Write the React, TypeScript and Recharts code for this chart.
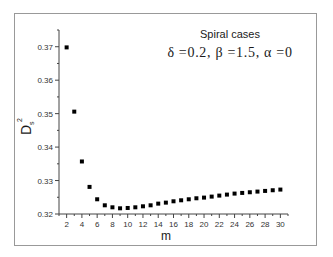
import { ScatterChart, Scatter, XAxis, YAxis, Customized } from "recharts";

const M_VALUES = [2, 3, 4, 5, 6, 7, 8, 9, 10, 11, 12, 13, 14, 15, 16, 17, 18, 19, 20, 21, 22, 23, 24, 25, 26, 27, 28, 29, 30];
const DS2_VALUES = [
  0.3698, 0.3506, 0.3357, 0.3281, 0.3244, 0.3226, 0.322, 0.3217, 0.3218, 0.322,
  0.3223, 0.3226, 0.3231, 0.3234, 0.3238, 0.3241, 0.3244, 0.3247, 0.3249, 0.3252,
  0.3255, 0.3258, 0.3261, 0.3263, 0.3265, 0.3267, 0.3269, 0.3271, 0.3273,
];
const X_TICKS = [1, 2, 3, 4, 5, 6, 7, 8, 9, 10, 11, 12, 13, 14, 15, 16, 17, 18, 19, 20, 21, 22, 23, 24, 25, 26, 27, 28, 29, 30, 31];
const X_LABELS = [2, 4, 6, 8, 10, 12, 14, 16, 18, 20, 22, 24, 26, 28, 30];
const Y_TICKS = [0.32, 0.325, 0.33, 0.335, 0.34, 0.345, 0.35, 0.355, 0.36, 0.365, 0.37, 0.375];
const Y_LABELS = [0.32, 0.33, 0.34, 0.35, 0.36, 0.37];

const data = M_VALUES.map((m, i) => ({ m, ds2: DS2_VALUES[i] }));

const AXIS = "#444";
const TEXT = "#1a1a1a";
const TICK_FONT = { fontFamily: "'Liberation Sans', Arial, sans-serif", fontSize: 8, fill: "#333" };

function XTick({ x, y, payload }: any) {
  const major = X_LABELS.includes(payload.value);
  return (
    <g>
      <line x1={x} x2={x} y1={y} y2={y + (major ? 4 : 2)} stroke={AXIS} />
      {major && (
        <text x={x} y={y + 13} textAnchor="middle" {...TICK_FONT}>
          {payload.value}
        </text>
      )}
    </g>
  );
}

function YTick({ x, y, payload }: any) {
  const major = Y_LABELS.some((v) => Math.abs(v - payload.value) < 1e-6);
  return (
    <g>
      <line x1={x - (major ? 4 : 2)} x2={x} y1={y} y2={y} stroke={AXIS} />
      {major && (
        <text x={x - 6} y={y + 3} textAnchor="end" {...TICK_FONT}>
          {payload.value.toFixed(2)}
        </text>
      )}
    </g>
  );
}

function SquareDot({ cx, cy }: any) {
  return <rect x={cx - 2} y={cy - 2} width={4} height={4} fill="#000" />;
}

// text blocks: legend note, axis titles
function Annotations() {
  return (
    <g>
      <text x={230} y={38} textAnchor="middle" fontFamily="'Liberation Sans', Arial, sans-serif" fontSize={11} fill={TEXT}>
        Spiral cases
      </text>
      <text x={230} y={57} textAnchor="middle" fontFamily="'Liberation Serif', 'Times New Roman', serif" fontSize={14} letterSpacing={0.7} fill={TEXT}>
        δ =0.2, β =1.5, α =0
      </text>
      <text x={166} y={240} textAnchor="middle" fontFamily="'Liberation Sans', Arial, sans-serif" fontSize={12} fill={TEXT}>
        m
      </text>
      <g transform="translate(31,135) rotate(-90)" fontFamily="'Liberation Sans', Arial, sans-serif" fill={TEXT}>
        <text x={0} y={0} fontSize={14}>D</text>
        <text x={10} y={3} fontSize={7}>s</text>
        <text x={13} y={-9} fontSize={7}>2</text>
      </g>
    </g>
  );
}

export default function App() {
  return (
    <div style={{ position: "absolute", left: 0, top: 0, width: 333, height: 257, background: "#fff" }}>
      <div
        style={{
          position: "absolute",
          left: 14,
          top: 13,
          width: 301,
          height: 231,
          border: "1px solid #999",
        }}
      />
      <div style={{ position: "absolute", left: 0, top: 0 }}>
        <ScatterChart width={333} height={257} margin={{ top: 30, right: 45, bottom: 0, left: 0 }}>
          <XAxis
            type="number"
            dataKey="m"
            domain={[1, 31]}
            ticks={X_TICKS}
            interval={0}
            height={43}
            tickSize={0}
            tickMargin={0}
            tickLine={false}
            axisLine={{ stroke: AXIS }}
            tick={<XTick />}
            allowDataOverflow
          />
          <YAxis
            type="number"
            dataKey="ds2"
            domain={[0.32, 0.375]}
            ticks={Y_TICKS}
            interval={0}
            width={59}
            tickSize={0}
            tickMargin={0}
            tickLine={false}
            axisLine={{ stroke: AXIS }}
            tick={<YTick />}
            allowDataOverflow
          />
          <Scatter data={data} shape={<SquareDot />} isAnimationActive={false} />
          <Customized component={Annotations} />
        </ScatterChart>
      </div>
    </div>
  );
}
